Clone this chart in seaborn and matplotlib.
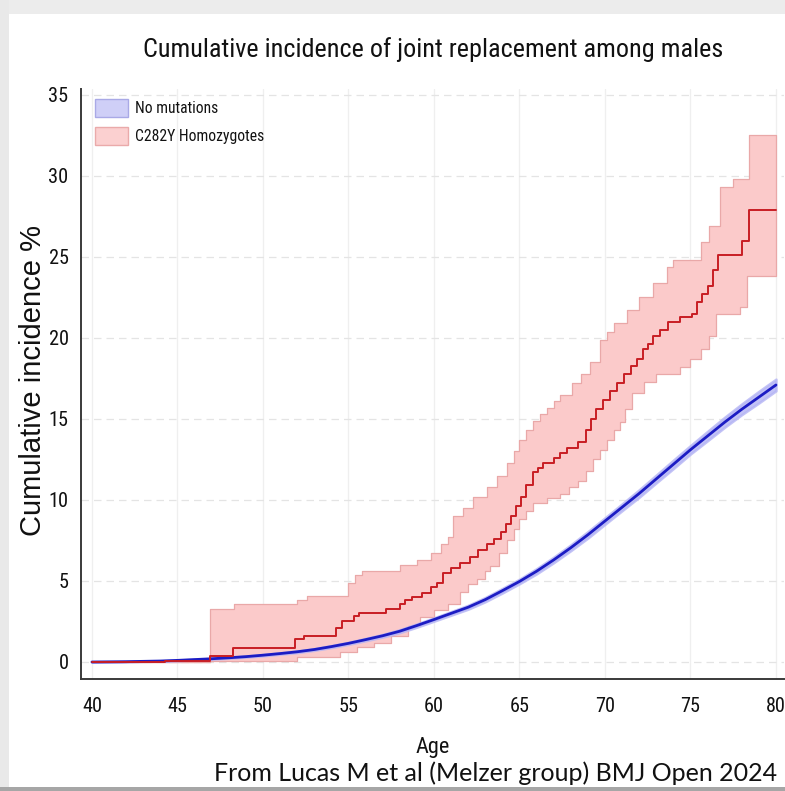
import numpy as np
import pandas as pd
import matplotlib
matplotlib.use("Agg")
import matplotlib.pyplot as plt
import matplotlib.font_manager as fm
import seaborn as sns
from matplotlib.patches import Patch, Rectangle

# ---- No mutations: cumulative incidence (%) with 95% CI ----
ref_age = [40, 42, 44, 45, 46, 47, 48, 49, 50, 51, 52, 53, 54, 55, 56, 57, 58, 59, 60,
           61, 62, 63, 64, 65, 66, 67, 68, 69, 70, 71, 72, 73, 74, 75, 76, 77, 78, 79, 80]
ref_ci = [0, 0.02, 0.06, 0.1, 0.15, 0.2, 0.26, 0.33, 0.42, 0.52, 0.63, 0.77, 0.95, 1.15,
          1.38, 1.62, 1.9, 2.25, 2.62, 3.0, 3.38, 3.85, 4.4, 4.97, 5.6, 6.3, 7.05, 7.85,
          8.7, 9.55, 10.4, 11.3, 12.2, 13.1, 13.95, 14.8, 15.6, 16.35, 17.1]
ref_lo = [0, 0.02, 0.05, 0.08, 0.13, 0.18, 0.23, 0.3, 0.38, 0.48, 0.58, 0.72, 0.89, 1.09,
          1.31, 1.54, 1.81, 2.15, 2.52, 2.89, 3.26, 3.72, 4.26, 4.83, 5.44, 6.13, 6.87,
          7.65, 8.5, 9.34, 10.17, 11.06, 11.94, 12.84, 13.66, 14.49, 15.27, 15.99, 16.74]
ref_hi = [0, 0.02, 0.07, 0.12, 0.17, 0.22, 0.29, 0.36, 0.46, 0.56, 0.68, 0.82, 1.01, 1.21,
          1.45, 1.7, 1.99, 2.35, 2.72, 3.11, 3.5, 3.98, 4.54, 5.11, 5.76, 6.47, 7.23,
          8.05, 8.9, 9.76, 10.63, 11.54, 12.46, 13.36, 14.24, 15.11, 15.93, 16.71, 17.46]

# ---- C282Y homozygotes: step estimate and CI bounds ----
hom_age = [40, 44.3, 46.9, 48.25, 51.9, 52.4, 54.3, 54.6, 55.3, 55.6, 57.2, 58.0, 58.3,
           58.7, 59.3, 59.8, 60.2, 60.5, 61.0, 61.5, 62.1, 62.6, 63.1, 63.5, 63.9, 64.2,
           64.5, 64.8, 65.1, 65.4, 65.8, 66.1, 66.4, 67.0, 67.4, 67.8, 68.4, 68.9, 69.2,
           69.5, 69.9, 70.3, 70.7, 71.1, 71.5, 71.9, 72.2, 72.5, 72.8, 73.2, 73.7, 74.4,
           75.1, 75.4, 75.7, 76.0, 76.3, 76.6, 78.0, 78.4, 80.0]
hom_ci = [0, 0.05, 0.37, 0.86, 1.4, 1.6, 2.1, 2.5, 2.85, 3.0, 3.3, 3.6, 3.85, 4.0, 4.25,
          4.6, 4.9, 5.5, 5.8, 6.1, 6.5, 6.9, 7.3, 7.6, 8.0, 8.5, 9.0, 9.6, 10.2, 10.9,
          11.7, 12.0, 12.3, 12.6, 12.9, 13.2, 13.6, 14.3, 15.0, 15.6, 16.2, 16.7, 17.2,
          17.8, 18.3, 18.7, 19.3, 19.6, 20.1, 20.5, 21.0, 21.3, 21.5, 22.2, 22.7, 23.2,
          24.2, 25.1, 26.0, 27.9, 27.9]
hom_hi_age = [40, 46.9, 48.3, 52.0, 52.6, 55.0, 55.4, 55.8, 58.0, 59.0, 59.8, 60.4, 60.8,
              61.1, 61.7, 62.3, 63.1, 63.7, 64.3, 64.7, 65.0, 65.4, 65.8, 66.2, 66.6,
              67.0, 67.4, 68.1, 68.6, 69.1, 69.7, 70.1, 70.5, 71.3, 72.0, 72.8, 73.6,
              74.0, 75.6, 76.1, 76.7, 77.5, 78.4, 80.0]
hom_hi = [0, 3.3, 3.6, 3.8, 4.1, 4.9, 5.4, 5.6, 6.0, 6.3, 6.7, 7.3, 7.7, 9.0, 9.5, 10.2,
          10.8, 11.5, 12.3, 13.0, 13.7, 14.3, 14.9, 15.3, 15.7, 16.1, 16.5, 17.2, 17.8,
          18.5, 19.9, 20.4, 20.9, 21.7, 22.5, 23.4, 24.4, 24.8, 25.9, 26.9, 29.3, 29.8,
          32.5, 32.5]
hom_lo_age = [40, 46.9, 52.0, 54.5, 55.5, 56.5, 57.5, 58.5, 59.2, 60.0, 60.8, 61.5, 62.0,
              62.5, 63.0, 63.3, 63.8, 64.3, 64.7, 65.0, 65.4, 65.8, 66.6, 67.4, 67.9,
              68.4, 68.9, 69.3, 69.7, 70.1, 70.5, 70.9, 71.2, 71.6, 72.3, 73.0, 74.4,
              75.0, 75.6, 76.1, 76.5, 77.9, 78.3, 80.0]
hom_lo = [0, 0.05, 0.3, 0.6, 0.9, 1.2, 1.6, 2.2, 2.8, 3.2, 3.6, 4.3, 4.8, 5.1, 5.6, 5.9,
          6.7, 7.5, 8.2, 8.8, 9.3, 9.8, 10.1, 10.4, 10.8, 11.2, 11.8, 12.5, 13.1, 13.7,
          14.3, 14.8, 15.6, 16.6, 17.3, 17.8, 18.2, 18.7, 19.3, 20.1, 21.5, 21.9, 23.8,
          24.0]

x_ticks = [40, 45, 50, 55, 60, 65, 70, 75, 80]
y_ticks = [0, 5, 10, 15, 20, 25, 30, 35]
series_labels = ["No mutations", "C282Y Homozygotes"]
title_text = "Cumulative incidence of joint replacement among males"
source_text = "From Lucas M et al (Melzer group) BMJ Open 2024"

# ---- fonts: prefer a narrow sans for the chart text ----
sns.set_style("white")
plt.rcParams["font.family"] = ["Liberation Sans", "DejaVu Sans"]


def pick_narrow():
    wanted = ["liberationsansnarrow-regular", "robotocondensed-regular",
              "notosans-condensed.", "notosans-condensed-regular",
              "opensans-condensedlight", "opensans_condensed-regular",
              "opensanscondensed-regular", "dejavusanscondensed."]
    files = [f.fname for f in fm.fontManager.ttflist]
    for key in wanted:
        for path in files:
            if key in path.lower().replace(" ", ""):
                return fm.FontProperties(fname=path)
    return fm.FontProperties(family=["Liberation Sans", "DejaVu Sans"])


narrow = pick_narrow()

# ---- colours ----
blue_line = "#1c1cc4"
blue_band = "#b4b4f4"
red_line = "#c81e24"
red_band = "#fbcaca"
red_edge = "#e9a8a8"
axis_col = "#3a3a3a"
ink = "#111111"

fig = plt.figure(figsize=(7.85, 7.91), dpi=100)
fig.patch.set_facecolor("white")
ax = fig.add_axes([81 / 785, 1 - 679 / 791, 703 / 785, 590 / 791])

# title first, scaled so that it spans the same width as in the layout
title = fig.text(433 / 785, 1 - 50 / 791, title_text, ha="center", va="center",
                 fontproperties=narrow, fontsize=20, color=ink)
renderer = fig.canvas.get_renderer()
k = 578.0 / title.get_window_extent(renderer).width
k = min(k, 1.35)
title.set_fontsize(20 * k)


def step_on(grid, ages, vals):
    """Value of a right-continuous step function at each grid point."""
    idx = np.searchsorted(np.asarray(ages), grid, side="right") - 1
    return np.asarray(vals)[np.clip(idx, 0, len(vals) - 1)]


band_x = np.unique(np.concatenate([hom_hi_age, hom_lo_age]))
band_hi = step_on(band_x, hom_hi_age, hom_hi)
band_lo = step_on(band_x, hom_lo_age, hom_lo)

# confidence bands
ax.fill_between(band_x, band_lo, band_hi, step="post", facecolor=red_band,
                edgecolor=red_edge, linewidth=0.9, zorder=2)
ax.fill_between(ref_age, ref_lo, ref_hi, facecolor=blue_band, edgecolor=blue_band,
                linewidth=1.8, alpha=0.8, zorder=3)

# point estimates
ref_df = pd.DataFrame({"age": ref_age, "ci": ref_ci})
hom_df = pd.DataFrame({"age": hom_age, "ci": hom_ci})
sns.lineplot(data=ref_df, x="age", y="ci", ax=ax, color=blue_line, linewidth=2.0,
             zorder=4)
sns.lineplot(data=hom_df, x="age", y="ci", ax=ax, color=red_line, linewidth=1.4,
             drawstyle="steps-post", zorder=5)

# axes
ax.set_xlim(39.36, 80.47)
ax.set_ylim(-1.05, 35.37)
ax.set_xticks(x_ticks)
ax.set_yticks(y_ticks)
ax.set_xticklabels([str(v) for v in x_ticks])
ax.set_yticklabels([str(v) for v in y_ticks])
ax.tick_params(axis="both", which="major", length=7, width=1.3,
               color=axis_col, labelcolor=ink)
ax.tick_params(axis="x", pad=6)
ax.tick_params(axis="y", pad=2)
for lab in ax.get_xticklabels() + ax.get_yticklabels():
    lab.set_fontproperties(narrow)
    lab.set_fontsize(15.5 * k)
for side in ["top", "right"]:
    ax.spines[side].set_visible(False)
for side in ["left", "bottom"]:
    ax.spines[side].set_color(axis_col)
    ax.spines[side].set_linewidth(1.4)

ax.grid(False)
for xv in x_ticks:
    ax.axvline(xv, color="#efefef", linewidth=0.9, zorder=0)
for yv in y_ticks:
    ax.axhline(yv, color="#e4e4e4", linewidth=0.9, linestyle=(0, (6, 4)), zorder=0)

ax.set_xlabel("Age", fontproperties=narrow, color=ink)
ax.xaxis.label.set_fontsize(17 * k)
ax.set_ylabel("Cumulative incidence %", fontsize=21, color=ink,
              family=["Liberation Sans", "DejaVu Sans"])
ax.xaxis.set_label_coords((433 - 81) / 703, -(747 - 679) / 590)
ax.yaxis.set_label_coords(-(81 - 33) / 703, (679 - 381) / 590)
ax.xaxis.label.set_va("center")
ax.yaxis.label.set_va("center")

handles = [Patch(facecolor="#cfcff7", edgecolor="#a9a9e6", linewidth=1.0),
           Patch(facecolor="#fbd0d0", edgecolor="#eaaaaa", linewidth=1.0)]
leg_fs = 12 * k
leg = ax.legend(handles, series_labels, loc="upper left",
                bbox_to_anchor=((95 - 81) / 703, (679 - 99) / 590), borderaxespad=0,
                borderpad=0, frameon=False, prop=narrow,
                handlelength=37 / (leg_fs * 100 / 72),
                handleheight=26 / (leg_fs * 100 / 72),
                labelspacing=12 / (leg_fs * 100 / 72) * 0.9,
                handletextpad=8 / (leg_fs * 100 / 72))
for t in leg.get_texts():
    t.set_fontsize(leg_fs)
    t.set_color(ink)

fig.text(214 / 785, 1 - 773 / 791, source_text, ha="left", va="center", fontsize=18,
         color=ink, family=["Lato", "DejaVu Sans"])

# light page frame
fig.patches.append(Rectangle((0, 1 - 14 / 791), 1, 14 / 791, transform=fig.transFigure,
                             facecolor="#ececec", edgecolor="none", zorder=0))
fig.patches.append(Rectangle((0, 0), 9 / 785, 1, transform=fig.transFigure,
                             facecolor="#e9e9e9", edgecolor="none", zorder=0))
fig.patches.append(Rectangle((0, 0), 1, 4 / 791, transform=fig.transFigure,
                             facecolor="#a6a6a6", edgecolor="none", zorder=0))

fig.savefig("out.png", dpi=100)
